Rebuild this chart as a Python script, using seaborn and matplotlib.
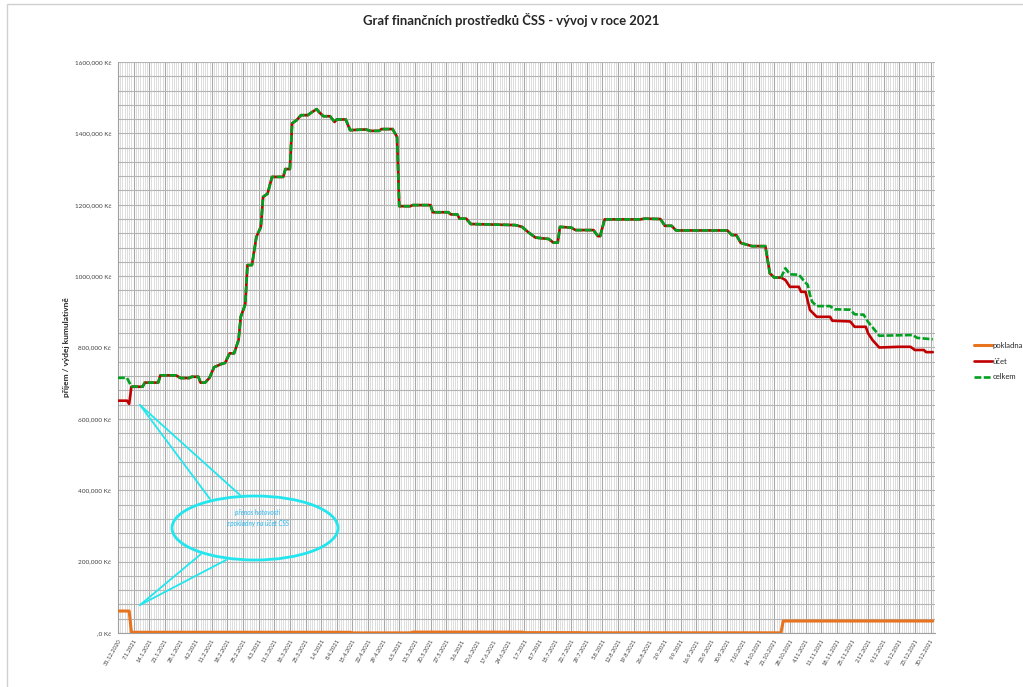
import matplotlib
matplotlib.use("Agg")
import matplotlib.pyplot as plt
import matplotlib.dates as mdates
import matplotlib.ticker as mticker
from matplotlib.patches import Ellipse, Rectangle
from matplotlib.lines import Line2D
import seaborn as sns
import pandas as pd

# ---------------- data ----------------
title = "Graf finančních prostředků ČSS - vývoj v roce 2021"
ylabel = "příjem / výdej kumulativně"
series_names = ["pokladna", "účet", "celkem"]
note_text = "přenos hotovosti\nz pokladny na účet ČSS"

pokladna_dates = ["31.12.2020", "5.1.2021", "6.1.2021", "14.4.2021", "15.4.2021", "11.5.2021",
                  "12.5.2021", "30.6.2021", "1.7.2021", "26.7.2021", "27.7.2021", "24.10.2021",
                  "25.10.2021", "31.12.2021"]
pokladna_values = [61600, 61600, 2000, 2000, 300, 300, 2500, 2500, 1000, 1000, 500, 500, 33600, 33600]

# account and total coincide between 11.1. and 24.10.
common_dates = ["11.1.2021", "12.1.2021", "18.1.2021", "19.1.2021", "26.1.2021", "28.1.2021",
                "1.2.2021", "2.2.2021", "5.2.2021", "6.2.2021", "8.2.2021", "10.2.2021",
                "12.2.2021", "15.2.2021", "17.2.2021", "19.2.2021", "21.2.2021", "23.2.2021",
                "24.2.2021", "26.2.2021", "27.2.2021", "1.3.2021", "3.3.2021", "5.3.2021",
                "6.3.2021", "8.3.2021", "10.3.2021", "15.3.2021", "16.3.2021", "18.3.2021",
                "19.3.2021", "21.3.2021", "23.3.2021", "26.3.2021", "28.3.2021", "30.3.2021",
                "31.3.2021", "2.4.2021", "5.4.2021", "7.4.2021", "8.4.2021", "12.4.2021",
                "14.4.2021", "21.4.2021", "23.4.2021", "27.4.2021", "28.4.2021", "3.5.2021",
                "5.5.2021", "6.5.2021", "11.5.2021", "12.5.2021", "20.5.2021", "21.5.2021",
                "28.5.2021", "29.5.2021", "1.6.2021", "2.6.2021", "5.6.2021", "7.6.2021",
                "27.6.2021", "30.6.2021", "3.7.2021", "6.7.2021", "12.7.2021", "14.7.2021",
                "16.7.2021", "17.7.2021", "22.7.2021", "24.7.2021", "1.8.2021", "3.8.2021",
                "4.8.2021", "6.8.2021", "22.8.2021", "24.8.2021", "31.8.2021", "2.9.2021",
                "5.9.2021", "7.9.2021", "30.9.2021", "2.10.2021", "4.10.2021", "6.10.2021",
                "11.10.2021", "17.10.2021", "19.10.2021", "21.10.2021", "24.10.2021"]
common_values = [690000, 701600, 701600, 722000, 722000, 714500,
                 714500, 718000, 718000, 701500, 701500, 715000,
                 744500, 753000, 757000, 783600, 783600, 821000,
                 886000, 921000, 1031000, 1031000, 1110000, 1138000,
                 1222000, 1231000, 1278000, 1278000, 1300000, 1300000,
                 1428000, 1437000, 1451000, 1451000, 1460000, 1468000,
                 1460000, 1448000, 1448000, 1432000, 1439000, 1439000,
                 1409000, 1411000, 1407000, 1407000, 1412000, 1412000,
                 1390000, 1196000, 1196000, 1199000, 1199000, 1179000,
                 1179000, 1173000, 1173000, 1161000, 1161000, 1146000,
                 1143000, 1138000, 1122000, 1108000, 1104000, 1094000,
                 1094000, 1138000, 1136000, 1129000, 1129000, 1112000,
                 1112000, 1159000, 1159000, 1161000, 1160000, 1141000,
                 1141000, 1128000, 1128000, 1115000, 1115000, 1093000,
                 1084000, 1084000, 1008000, 996000, 996000]

ucet_start_dates = ["31.12.2020", "4.1.2021", "5.1.2021", "6.1.2021"]
ucet_start_values = [651000, 651000, 642000, 690000]
ucet_end_dates = ["26.10.2021", "28.10.2021", "1.11.2021", "2.11.2021", "4.11.2021", "6.11.2021",
                  "9.11.2021", "15.11.2021", "16.11.2021", "24.11.2021", "26.11.2021", "1.12.2021",
                  "2.12.2021", "4.12.2021", "7.12.2021", "16.12.2021", "21.12.2021", "23.12.2021",
                  "27.12.2021", "28.12.2021", "31.12.2021"]
ucet_end_values = [989000, 970000, 970000, 956000, 956000, 905000,
                   886000, 886000, 875000, 873000, 858000, 858000,
                   840000, 821000, 800000, 802000, 802000, 793000,
                   793000, 787000, 787000]

celkem_start_dates = ["31.12.2020", "4.1.2021", "6.1.2021"]
celkem_start_values = [715000, 715000, 691000]
celkem_end_dates = ["26.10.2021", "28.10.2021", "1.11.2021", "3.11.2021", "5.11.2021", "6.11.2021",
                    "7.11.2021", "9.11.2021", "15.11.2021", "17.11.2021", "24.11.2021", "26.11.2021",
                    "30.11.2021", "2.12.2021", "5.12.2021", "7.12.2021", "22.12.2021", "24.12.2021",
                    "31.12.2021"]
celkem_end_values = [1022000, 1005000, 1004000, 989000, 975000, 947000,
                     928000, 916000, 916000, 907000, 906000, 893000,
                     892000, 872000, 849000, 833000, 835000, 827000,
                     823000]

colors = {"pokladna": "#E8731E", "účet": "#C00000", "celkem": "#00A020"}

# ---------------- build tables ----------------
def to_df(dates, values):
    return pd.DataFrame({"datum": pd.to_datetime(dates, format="%d.%m.%Y"), "hodnota": values})

df_pokl = to_df(pokladna_dates, pokladna_values)
df_ucet = to_df(ucet_start_dates + common_dates + ucet_end_dates,
                ucet_start_values + common_values + ucet_end_values)
df_celk = to_df(celkem_start_dates + common_dates + celkem_end_dates,
                celkem_start_values + common_values + celkem_end_values)

# ---------------- figure ----------------
sns.set_style("white")
plt.rcParams["font.family"] = ["Lato", "DejaVu Sans"]

W, H = 1023, 687
fig = plt.figure(figsize=(W / 100, H / 100), dpi=100)
ax = fig.add_axes([118 / W, 1 - 633 / H, (935 - 118) / W, (633 - 62) / H])

# chart area border
fig.patches.append(Rectangle((7 / W, -0.01), 1.2, 1 - 4 / H + 0.01, transform=fig.transFigure,
                             fill=False, edgecolor="#d0d0d0", linewidth=1.0))

sns.lineplot(data=df_pokl, x="datum", y="hodnota", ax=ax, color=colors["pokladna"],
             linewidth=2.2, label="pokladna", zorder=5)
sns.lineplot(data=df_ucet, x="datum", y="hodnota", ax=ax, color=colors["účet"],
             linewidth=1.9, label="účet", zorder=6)
sns.lineplot(data=df_celk, x="datum", y="hodnota", ax=ax, color=colors["celkem"],
             linewidth=1.9, label="celkem", zorder=7, linestyle=(0, (2.6, 0.9)))

x0 = pd.Timestamp("2020-12-31")
x1 = pd.Timestamp("2022-01-01")
ax.set_xlim(x0, x1)
ax.set_ylim(0, 1600000)

# ticks
ax.xaxis.set_major_locator(mticker.FixedLocator(
    mdates.date2num(pd.date_range("2020-12-31", "2021-12-30", freq="7D"))))
ax.xaxis.set_minor_locator(mticker.FixedLocator(
    mdates.date2num(pd.date_range("2020-12-31", "2022-01-01", freq="1D"))))
ax.xaxis.set_major_formatter(mticker.FuncFormatter(
    lambda v, p: (lambda d: f"{d.day}.{d.month}.{d.year}")(mdates.num2date(v))))
ax.yaxis.set_major_locator(mticker.MultipleLocator(200000))
ax.yaxis.set_minor_locator(mticker.MultipleLocator(40000))
ax.yaxis.set_major_formatter(mticker.FuncFormatter(
    lambda v, p: f"{int(v) // 1000},000 Kč" if v > 0 else ",0 Kč"))

ax.grid(which="minor", axis="x", color="#d4d4d4", linewidth=0.55)
ax.grid(which="major", axis="x", color="#a8a8a8", linewidth=0.8)
ax.grid(which="both", axis="y", color="#b4b4b4", linewidth=0.8)
ax.set_axisbelow(True)

for s in ["top", "right"]:
    ax.spines[s].set_visible(False)
for s in ["left", "bottom"]:
    ax.spines[s].set_color("#a0a0a0")
    ax.spines[s].set_linewidth(0.8)

ax.tick_params(axis="y", which="major", length=3, width=0.6, color="#a0a0a0",
               labelsize=4.6, pad=2, labelcolor="#404040")
ax.tick_params(axis="x", which="major", length=3, width=0.6, color="#a0a0a0",
               labelsize=4.2, pad=1, labelcolor="#404040")
ax.tick_params(which="minor", length=0)
for lab in ax.get_xticklabels():
    lab.set_rotation(60)
    lab.set_ha("right")
    lab.set_va("top")
    lab.set_rotation_mode("anchor")

ax.set_xlabel("")
ax.set_ylabel(ylabel, fontsize=6, fontweight="bold", labelpad=3)

fig.text(0.5, 1 - 20 / H, title, ha="center", va="center", fontsize=9.4, fontweight="bold")

# legend
ax.get_legend().remove()
h, l = ax.get_legend_handles_labels()
fig.legend(h, l, loc="center left", bbox_to_anchor=(974 / W, 1 - 361 / H), frameon=False,
           fontsize=5.5, handlelength=2.3, handletextpad=0.15, labelspacing=1.15,
           borderaxespad=0, borderpad=0)

# callout annotation
cy = "#22E6EE"
def fx(px):
    return px / W
def fy(py):
    return 1 - py / H
for (xa, ya), (xb, yb) in [((140, 405), (210, 499)), ((140, 405), (240, 495)),
                           ((140, 605), (201, 554)), ((140, 605), (226, 560))]:
    fig.add_artist(Line2D([fx(xa), fx(xb)], [fy(ya), fy(yb)], transform=fig.transFigure,
                          color=cy, linewidth=1.3, zorder=20))
fig.add_artist(Ellipse((fx(255), fy(528)), 166 / W, 64 / H, transform=fig.transFigure,
                       facecolor="none", edgecolor=cy, linewidth=2.0, zorder=21))
fig.text(fx(258), fy(518), note_text, ha="center", va="center", fontsize=4.7,
         style="italic", color="#2AB8F0", zorder=22, linespacing=1.45)

fig.savefig("out.png", dpi=100)
